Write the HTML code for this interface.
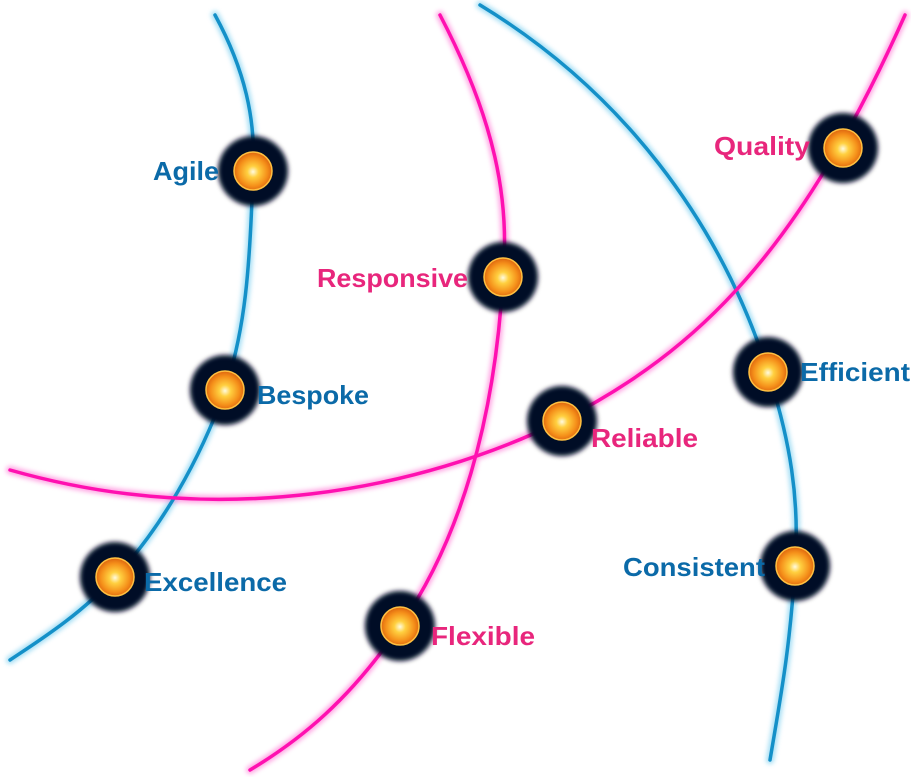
<!DOCTYPE html>
<html><head><style>
html,body{margin:0;padding:0;background:#fff;width:911px;height:777px;overflow:hidden}
svg{display:block}
text{font-family:"Liberation Sans",sans-serif;font-size:26px;font-weight:bold}
.b{fill:#0b6aa8}.p{fill:#e8267c}
</style></head><body>
<svg width="911" height="777" viewBox="0 0 911 777">
<defs>
<filter id="glow" x="-20%" y="-20%" width="140%" height="140%"><feGaussianBlur stdDeviation="2.5"/></filter>
<filter id="halo" x="-50%" y="-50%" width="200%" height="200%"><feGaussianBlur stdDeviation="2.5"/></filter>
<radialGradient id="sun" cx="50%" cy="52%" r="50%">
<stop offset="0" stop-color="#fffbe0"/><stop offset="0.3" stop-color="#ffd040"/><stop offset="0.75" stop-color="#f5901a"/><stop offset="1" stop-color="#e06a10"/>
</radialGradient>
<g id="node">
<circle r="35" fill="#050828" filter="url(#halo)"/>
<circle r="19" fill="url(#sun)" stroke="#ffc040" stroke-width="1.5"/>
</g>
</defs>
<g fill="none" stroke-linecap="round">
<g stroke="#7fd0f0" stroke-width="8" filter="url(#glow)" opacity="0.7">
<path d="M215,15 C245,70 256,120 253,171 C250,270 245,330 225,390 C200,460 160,530 115,577 C80,615 40,640 10,660"/>
<path d="M480,5 C620,90 720,220 768,372 C790,440 800,500 795,566 C790,650 780,700 770,760"/>
</g>
<g stroke="#ff80d8" stroke-width="8" filter="url(#glow)" opacity="0.7">
<path d="M440,15 C495,120 510,200 503,277 C495,420 460,540 400,626 C350,700 300,740 250,770"/>
<path d="M10,470 C220,530 420,490 561,421 C700,350 800,250 905,15"/>
</g>
<g stroke="#1490c8" stroke-width="3.5">
<path d="M215,15 C245,70 256,120 253,171 C250,270 245,330 225,390 C200,460 160,530 115,577 C80,615 40,640 10,660"/>
<path d="M480,5 C620,90 720,220 768,372 C790,440 800,500 795,566 C790,650 780,700 770,760"/>
</g>
<g stroke="#ff10b0" stroke-width="3.5">
<path d="M440,15 C495,120 510,200 503,277 C495,420 460,540 400,626 C350,700 300,740 250,770"/>
<path d="M10,470 C220,530 420,490 561,421 C700,350 800,250 905,15"/>
</g>
</g>
<use href="#node" x="253" y="171"/>
<use href="#node" x="503" y="277"/>
<use href="#node" x="843" y="148"/>
<use href="#node" x="225" y="390"/>
<use href="#node" x="768" y="372"/>
<use href="#node" x="562" y="421"/>
<use href="#node" x="115" y="577"/>
<use href="#node" x="795" y="566"/>
<use href="#node" x="400" y="626"/>
<text class="b" x="153" y="180" textLength="66" lengthAdjust="spacingAndGlyphs">Agile</text>
<text class="p" x="317" y="287" textLength="151" lengthAdjust="spacingAndGlyphs">Responsive</text>
<text class="p" x="714" y="155" textLength="96" lengthAdjust="spacingAndGlyphs">Quality</text>
<text class="b" x="257" y="404" textLength="112" lengthAdjust="spacingAndGlyphs">Bespoke</text>
<text class="b" x="800" y="381" textLength="110" lengthAdjust="spacingAndGlyphs">Efficient</text>
<text class="p" x="591" y="447" textLength="107" lengthAdjust="spacingAndGlyphs">Reliable</text>
<text class="b" x="144" y="591" textLength="143" lengthAdjust="spacingAndGlyphs">Excellence</text>
<text class="b" x="623" y="576" textLength="142" lengthAdjust="spacingAndGlyphs">Consistent</text>
<text class="p" x="431" y="645" textLength="104" lengthAdjust="spacingAndGlyphs">Flexible</text>
</svg>
</body></html>
